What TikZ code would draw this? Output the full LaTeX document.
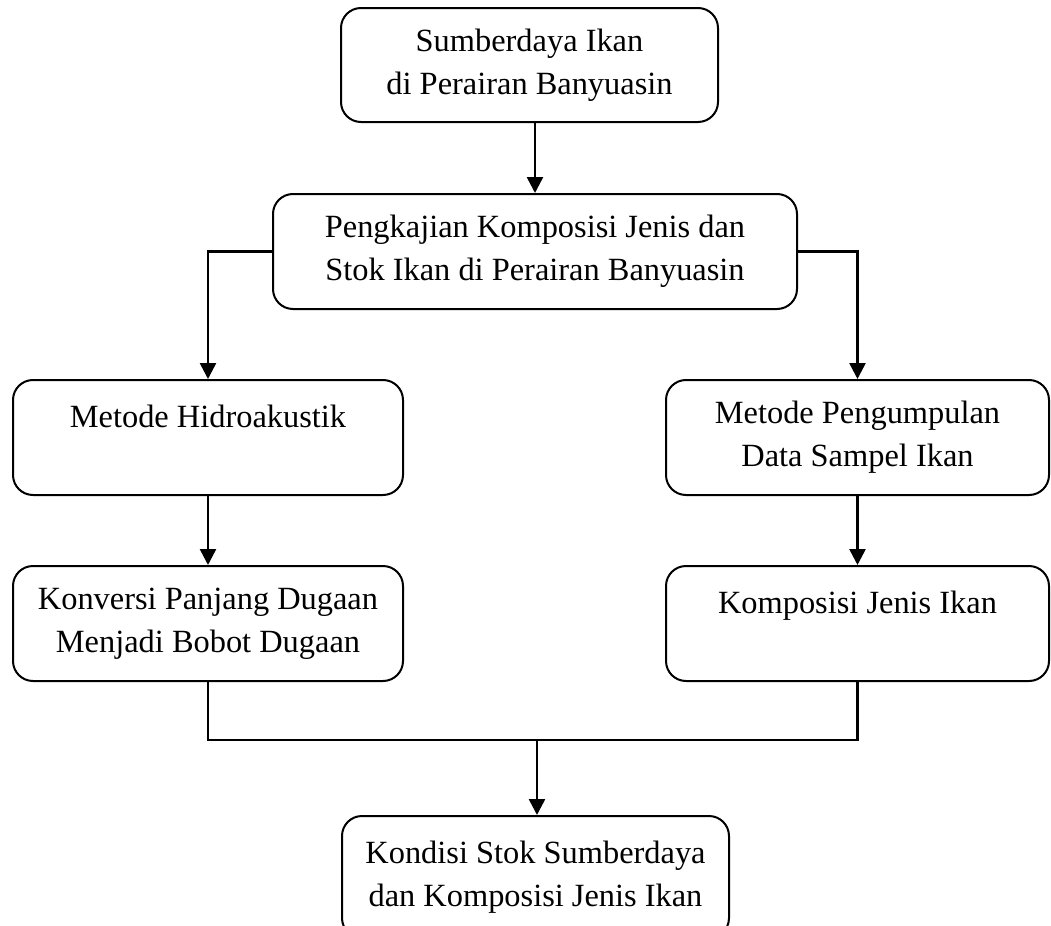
\documentclass[tikz,border=0pt]{standalone}
\usepackage{fontspec}
\setmainfont{Liberation Serif}
\usetikzlibrary{arrows.meta}
\tikzset{
  flowbox/.style={draw,line width=1pt,rounded corners=10pt,align=center,inner sep=0pt,
    font=\fontsize{16.2}{21.5}\selectfont},
  flowline/.style={line width=1.3pt},
  flowarrow/.style={line width=1.3pt,-{Triangle[width=8pt,length=8pt]}}
}
\begin{document}
\begin{tikzpicture}[x=0.5pt,y=-0.5pt]
\useasboundingbox (0,0) rectangle (1051,926);
\node [flowbox,minimum width=188.5pt,minimum height=57pt] (sumber) at (529.5,65) {Sumberdaya Ikan\\di Perairan Banyuasin};
\node [flowbox,minimum width=262pt,minimum height=57.5pt] (kaji) at (535,251.5) {Pengkajian Komposisi Jenis dan\\Stok Ikan di Perairan Banyuasin};
\node [flowbox,minimum width=195pt,minimum height=57.5pt] (hidro) at (208,437.5) {Metode Hidroakustik\\\mbox{}};
\node [flowbox,minimum width=191.5pt,minimum height=57.5pt] (sampel) at (857.5,437.5) {Metode Pengumpulan\\Data Sampel Ikan};
\node [flowbox,minimum width=195pt,minimum height=57.5pt] (konversi) at (208,623.5) {Konversi Panjang Dugaan\\Menjadi Bobot Dugaan};
\node [flowbox,minimum width=191.5pt,minimum height=57.5pt] (komposisi) at (857.5,623.5) {Komposisi Jenis Ikan\\\mbox{}};
\node [flowbox,minimum width=193.5pt,minimum height=61pt] (kondisi) at (535.5,877) {Kondisi Stok Sumberdaya\\dan Komposisi Jenis Ikan};
\coordinate (gabung) at (537,740);
% connectors
\draw [flowarrow] (sumber.south -| kaji.north) -- (kaji.north);
\draw [flowarrow] (kaji.west) -| (hidro.north);
\draw [flowarrow] (kaji.east) -| (sampel.north);
\draw [flowarrow] (hidro) -- (konversi);
\draw [flowarrow] (sampel) -- (komposisi);
\draw [flowline] (konversi.south) |- (gabung) -| (komposisi.south);
\draw [flowarrow] (gabung) -- (gabung |- kondisi.north);
\end{tikzpicture}
\end{document}
